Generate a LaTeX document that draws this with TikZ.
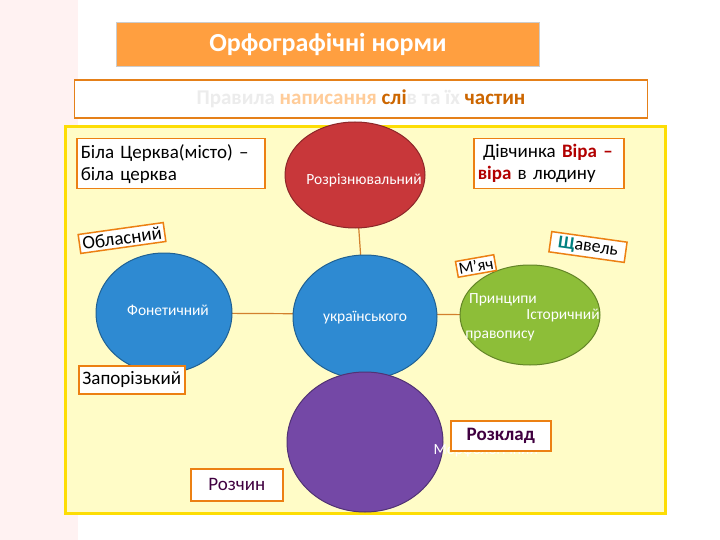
\documentclass[tikz,border=0pt]{standalone}
\usepackage{fontspec}
\setmainfont{Carlito}
\usetikzlibrary{shapes.geometric}
\definecolor{cred}{HTML}{C8373A}
\definecolor{cblue}{HTML}{2E8AD2}
\definecolor{cgreen}{HTML}{8DBE38}
\definecolor{cpurp}{HTML}{7448A6}
\begin{document}
\begin{tikzpicture}[x=1pt,y=-1pt,
  lbl/.style={draw=orange!70!brown,line width=1.5pt,fill=white,inner sep=3pt,font=\fontsize{19}{22}\selectfont},
  ell/.style={ellipse,draw=#1!70!black,line width=1pt,fill=#1},
  etext/.style={text=white,font=\fontsize{15.5}{17}\selectfont},
  conn/.style={draw=brown!70!orange,line width=1.2pt}]
\useasboundingbox (0,0) rectangle (720,540);
\fill[white] (0,0) rectangle (720,540);
\fill[pink!20] (0,0) rectangle (78,540);
\node[draw=gray!40,fill=orange!75!white,minimum width=423pt,minimum height=44pt,text=white,font=\bfseries\fontsize{26}{28}\selectfont] (title) at (328,44) {Орфографічні норми};
\node[draw=orange!60!brown,line width=1.2pt,fill=white,minimum width=573pt,minimum height=38pt,font=\bfseries\fontsize{21}{23}\selectfont] (sub) at (361,99)
 {\textcolor{gray!15}{Правила} \textcolor{orange!40}{написання} \textcolor{orange!80!black}{слі}\textcolor{gray!15}{в та їх} \textcolor{orange!80!black}{частин}};
\node[draw=yellow!80!orange,line width=3pt,fill=yellow!22,minimum width=600pt,minimum height=386pt] (panel) at (365,320) {};
\coordinate (rc) at (355,175);
\coordinate (lc) at (164,313);
\coordinate (cc) at (365,317);
\coordinate (gc) at (530,315);
\coordinate (pc) at (365,442);
\draw[conn] (rc) -- (cc) (lc) -- (gc) (cc) -- (pc);
\node[ell=cred,minimum width=140pt,minimum height=106pt] (red) at (rc) {};
\node[ell=cblue,minimum width=136pt,minimum height=120pt] (blueL) at (lc) {};
\node[ell=cblue,minimum width=144pt,minimum height=124pt] (blueC) at (cc) {};
\node[ell=cgreen,minimum width=140pt,minimum height=100pt] (green) at (gc) {};
\node[ell=cpurp,minimum width=156pt,minimum height=140pt] (purple) at (pc) {};
\node[etext] (t1) at (364,180) {Розрізнювальний};
\node[etext] (t2) at (168,310) {Фонетичний};
\node[etext] (t3) at (365,318) {українського};
\node[etext] (t4) at (563,316) {Історичний};
\node[etext] (t5) at (503,300) {Принципи};
\node[etext] (t6) at (500,336) {правопису};
\node[etext,anchor=west] (t7) at (430,450) {Морфологічний};
\node[lbl,anchor=north west,minimum width=188pt,minimum height=50pt,align=left,text width=180pt] (b1) at (76,138) {Біла Церква(місто) –\\біла церква};
\node[lbl,anchor=north west,minimum width=150pt,minimum height=50pt,align=left,text width=142pt] (b2) at (473,138) {\;Дівчинка \textcolor{red!70!black}{\bfseries Віра –}\\\textcolor{red!70!black}{\bfseries віра} в людину};
\node[lbl,rotate=8,font=\fontsize{19}{21}\selectfont] (b3) at (122,238) {Обласний};
\node[lbl,rotate=10,font=\fontsize{17}{19}\selectfont,inner sep=2pt] (b4) at (476,266) {М'яч};
\node[lbl,rotate=-8,font=\fontsize{18}{20}\selectfont,minimum width=76pt] (b5) at (588,247) {\textcolor{teal}{\bfseries Щ}авель};
\node[lbl,anchor=north west,minimum width=106pt,minimum height=28pt] (b6) at (78,365) {Запорізький};
\node[lbl,anchor=north west,minimum width=100pt,minimum height=30pt,font=\bfseries\fontsize{19}{21}\selectfont,text=violet!50!black] (b7) at (450,420) {Розклад\hspace{14pt}};
\node[lbl,anchor=north west,minimum width=92pt,minimum height=32pt,text=violet!50!black] (b8) at (190,468) {Розчин\hspace{12pt}};
\end{tikzpicture}
\end{document}
